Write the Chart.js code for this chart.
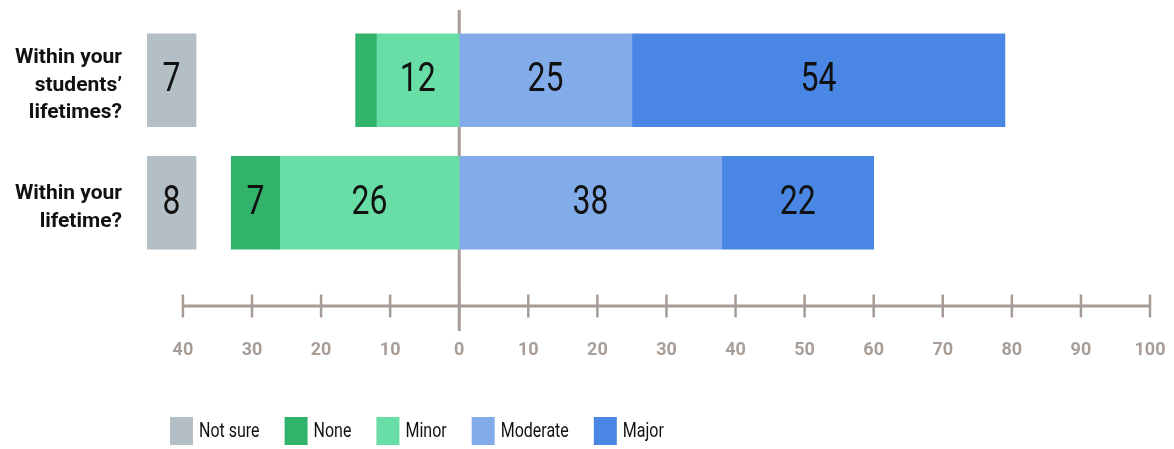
<!DOCTYPE html>
<html>
<head>
<meta charset="utf-8">
<script src="https://cdn.jsdelivr.net/npm/chart.js@4.4.1/dist/chart.umd.min.js"></script>
<style>
  html, body { margin: 0; padding: 0; background: #fff; }
  #wrap { width: 1174px; height: 449px; position: relative; }
</style>
</head>
<body>
<div id="wrap"><canvas id="likert_chart"></canvas></div>
<script>
// DATA
const questions = [
  ["Within your", "students’", "lifetimes?"],
  ["Within your", "lifetime?"]
];
const series_names = ["Not sure", "None", "Minor", "Moderate", "Major"];
const not_sure = [7, 8];
const none = [3, 7];
const minor = [12, 26];
const moderate = [25, 38];
const major = [54, 22];
const tick_values = [-40, -30, -20, -10, 0, 10, 20, 30, 40, 50, 60, 70, 80, 90, 100];

// STYLE
const FONT = "Roboto, sans-serif";
const AXIS_COLOR = "#a69c95";
const TICK_TEXT = "#a89e97";
const series_colors = ["#b3bec5", "#31b36b", "#68dea6", "#82ace9", "#4a86e3"];
const NARROW = 0.8; // squeeze own-drawn text to look like a condensed face
// the "not sure" column sits in its own fixed box left of the axis
const NOT_SURE_BOX = [-45.2, -38.1];

// BAR RANGES (diverging around zero)
const none_range = none.map((v, i) => [-(minor[i] + v), -minor[i]]);
const minor_range = minor.map(v => [-v, 0]);
const moderate_range = moderate.map(v => [0, v]);
const major_range = major.map((v, i) => [moderate[i], moderate[i] + v]);
const not_sure_range = not_sure.map(() => NOT_SURE_BOX);

const all_ranges = [not_sure_range, none_range, minor_range, moderate_range, major_range];
const all_values = [not_sure, none, minor, moderate, major];

const datasets = series_names.map((name, k) => ({
  label: name,
  data: all_ranges[k],
  shown: all_values[k],
  backgroundColor: series_colors[k],
  borderWidth: 0,
  borderSkipped: false,
  grouped: false,
  barThickness: 93
}));

function narrowText(ctx, text, x, y) {
  ctx.save();
  ctx.translate(x, y);
  ctx.scale(NARROW, 1);
  ctx.fillText(text, 0, 0);
  ctx.restore();
}

function noScalePadding(scale) {
  scale.paddingTop = 0;
  scale.paddingBottom = 0;
  scale.paddingLeft = 0;
  scale.paddingRight = 0;
}

// PLUGINS
const axisLines = {
  id: "axisLines",
  beforeDatasetsDraw(chart) {
    const ctx = chart.ctx;
    const x = chart.scales.x;
    const area = chart.chartArea;
    const axisY = area.bottom + 42;
    ctx.save();
    ctx.strokeStyle = AXIS_COLOR;
    // zero line
    ctx.lineWidth = 3;
    ctx.beginPath();
    ctx.moveTo(x.getPixelForValue(0), area.top - 9);
    ctx.lineTo(x.getPixelForValue(0), axisY + 25);
    ctx.stroke();
    // horizontal axis
    ctx.beginPath();
    ctx.moveTo(x.getPixelForValue(tick_values[0]), axisY);
    ctx.lineTo(x.getPixelForValue(tick_values[tick_values.length - 1]), axisY);
    ctx.stroke();
    // tick marks
    ctx.lineWidth = 2.5;
    tick_values.forEach(v => {
      const px = x.getPixelForValue(v);
      ctx.beginPath();
      ctx.moveTo(px, axisY - 11.5);
      ctx.lineTo(px, axisY + 11.5);
      ctx.stroke();
    });
    ctx.restore();
  }
};

const valueLabels = {
  id: "valueLabels",
  afterDatasetsDraw(chart) {
    const ctx = chart.ctx;
    ctx.save();
    ctx.font = "40px " + FONT;
    ctx.fillStyle = "#111";
    ctx.textAlign = "center";
    ctx.textBaseline = "middle";
    chart.data.datasets.forEach((ds, di) => {
      const meta = chart.getDatasetMeta(di);
      meta.data.forEach((bar, i) => {
        const v = ds.shown[i];
        if (v < 5) return;
        const p = bar.getProps(["x", "y", "base"], true);
        narrowText(ctx, String(v), (p.x + p.base) / 2, p.y + 1);
      });
    });
    ctx.restore();
  }
};

const bottomLegend = {
  id: "bottomLegend",
  afterDraw(chart) {
    const ctx = chart.ctx;
    ctx.save();
    ctx.font = "20px " + FONT;
    ctx.textBaseline = "middle";
    let left = 170;
    const top = 417;
    chart.data.datasets.forEach(ds => {
      ctx.fillStyle = ds.backgroundColor;
      ctx.fillRect(left, top, 23, 28);
      ctx.fillStyle = "#111";
      const tx = left + 23 + 6;
      narrowText(ctx, ds.label, tx, top + 15);
      left = tx + ctx.measureText(ds.label).width * NARROW + 25;
    });
    ctx.restore();
  }
};

const ctx = document.getElementById("likert_chart").getContext("2d");

new Chart(ctx, {
  type: "bar",
  data: { labels: questions, datasets: datasets },
  options: {
    indexAxis: "y",
    responsive: true,
    maintainAspectRatio: false,
    animation: false,
    layout: { padding: { left: 0, right: 24, top: 19, bottom: 87 } },
    plugins: { legend: { display: false }, tooltip: { enabled: false } },
    scales: {
      x: {
        type: "linear",
        min: NOT_SURE_BOX[0],
        max: 100,
        afterBuildTicks: scale => { scale.ticks = tick_values.map(v => ({ value: v })); },
        afterFit: scale => { scale.height = 98; noScalePadding(scale); },
        grid: { display: false, drawTicks: false },
        border: { display: false },
        ticks: {
          padding: 76,
          autoSkip: false,
          maxRotation: 0,
          minRotation: 0,
          color: TICK_TEXT,
          font: { family: FONT, size: 18, weight: "bold" },
          callback: v => Math.abs(v)
        }
      },
      y: {
        afterFit: scale => { scale.width = 147; noScalePadding(scale); },
        grid: { display: false, drawTicks: false },
        border: { display: false },
        ticks: {
          padding: 25,
          labelOffset: 5,
          color: "#111",
          font: { family: FONT, size: 21, weight: "bold", lineHeight: 1.33 }
        }
      }
    }
  },
  plugins: [axisLines, valueLabels, bottomLegend]
});
</script>
</body>
</html>
